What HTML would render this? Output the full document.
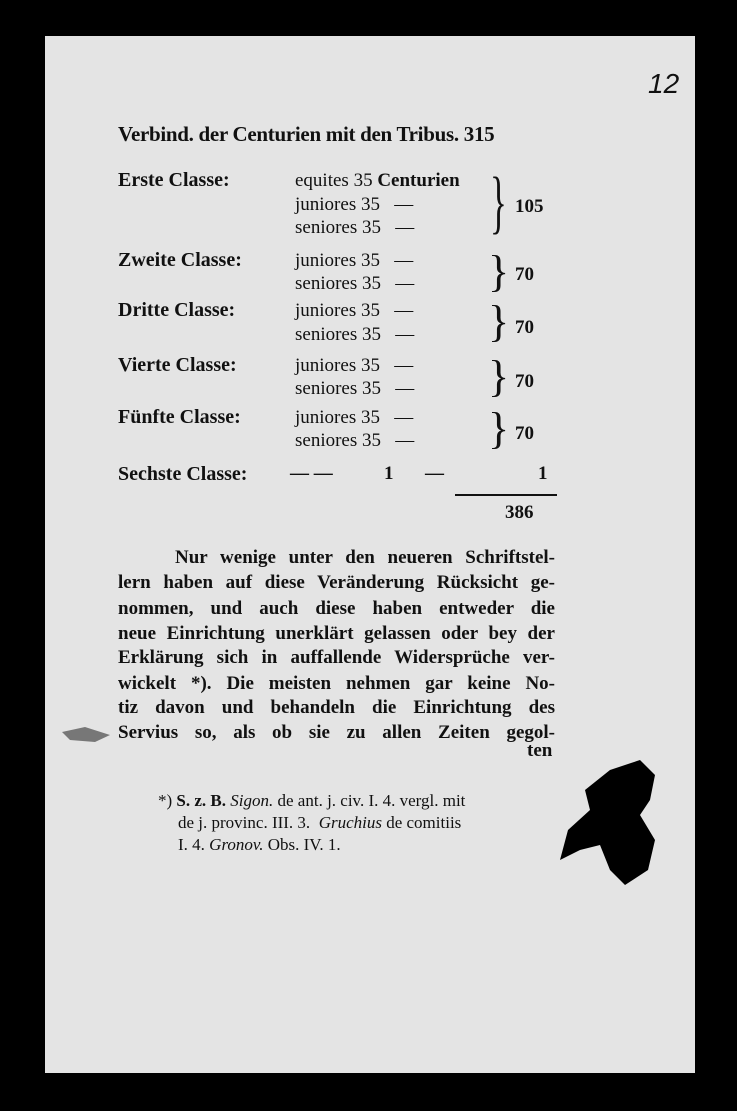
<!DOCTYPE html>
<html><head><meta charset="utf-8"><style>
body{margin:0;width:737px;height:1111px;background:#000;position:relative;overflow:hidden;font-family:"Liberation Serif",serif;color:#111}
.paper{position:absolute;left:45px;top:36px;width:650px;height:1037px;background:#e4e4e4}
.t{position:absolute;white-space:nowrap;font-size:19px;line-height:1}
.b{font-weight:bold}
.j{position:absolute;left:118px;width:437px;font-size:19px;font-weight:bold;text-align:justify;text-align-last:justify;white-space:nowrap;line-height:1}
</style></head><body>
<div class="paper"></div>
<div class="t" style="left:648px;top:70px;font-size:28px;font-family:'Liberation Sans',sans-serif;font-style:italic">12</div>
<div class="t b" style="left:118px;top:124px;font-size:21px;letter-spacing:-0.3px">Verbind. der Centurien mit den Tribus. 315</div>

<div class="t b" style="left:118px;top:170px;font-size:20px">Erste Classe:</div>
<div class="t" style="left:295px;top:171px">equites 35 <b>Centurien</b></div>
<div class="t" style="left:295px;top:195px">juniores 35 &nbsp;&nbsp;—</div>
<div class="t" style="left:295px;top:218px">seniores 35 &nbsp;&nbsp;—</div>
<div class="t" style="left:490px;top:168px;font-size:70px;font-weight:100;transform:scaleX(0.5);transform-origin:left">}</div>
<div class="t b" style="left:515px;top:197px">105</div>

<div class="t b" style="left:118px;top:250px;font-size:20px">Zweite Classe:</div>
<div class="t" style="left:295px;top:251px">juniores 35 &nbsp;&nbsp;—</div>
<div class="t" style="left:295px;top:274px">seniores 35 &nbsp;&nbsp;—</div>
<div class="t" style="left:488px;top:250px;font-size:44px">}</div>
<div class="t b" style="left:515px;top:265px">70</div>

<div class="t b" style="left:118px;top:300px;font-size:20px">Dritte Classe:</div>
<div class="t" style="left:295px;top:301px">juniores 35 &nbsp;&nbsp;—</div>
<div class="t" style="left:295px;top:325px">seniores 35 &nbsp;&nbsp;—</div>
<div class="t" style="left:488px;top:300px;font-size:44px">}</div>
<div class="t b" style="left:515px;top:318px">70</div>

<div class="t b" style="left:118px;top:355px;font-size:20px">Vierte Classe:</div>
<div class="t" style="left:295px;top:356px">juniores 35 &nbsp;&nbsp;—</div>
<div class="t" style="left:295px;top:379px">seniores 35 &nbsp;&nbsp;—</div>
<div class="t" style="left:488px;top:355px;font-size:44px">}</div>
<div class="t b" style="left:515px;top:372px">70</div>

<div class="t b" style="left:118px;top:407px;font-size:20px">Fünfte Classe:</div>
<div class="t" style="left:295px;top:408px">juniores 35 &nbsp;&nbsp;—</div>
<div class="t" style="left:295px;top:431px">seniores 35 &nbsp;&nbsp;—</div>
<div class="t" style="left:488px;top:407px;font-size:44px">}</div>
<div class="t b" style="left:515px;top:424px">70</div>

<div class="t b" style="left:118px;top:464px;font-size:20px">Sechste Classe:</div>
<div class="t b" style="left:290px;top:464px">— —</div>
<div class="t b" style="left:384px;top:464px">1</div>
<div class="t b" style="left:425px;top:464px">—</div>
<div class="t b" style="left:538px;top:464px">1</div>
<div style="position:absolute;left:455px;top:494px;width:102px;height:2px;background:#111"></div>
<div class="t b" style="left:505px;top:503px">386</div>

<div class="j" style="left:175px;width:380px;top:548px">Nur wenige unter den neueren Schriftstel-</div>
<div class="j" style="top:573px">lern haben auf diese Veränderung Rücksicht ge-</div>
<div class="j" style="top:599px">nommen, und auch diese haben entweder die</div>
<div class="j" style="top:624px">neue Einrichtung unerklärt gelassen oder bey der</div>
<div class="j" style="top:648px">Erklärung sich in auffallende Widersprüche ver-</div>
<div class="j" style="top:674px">wickelt *). Die meisten nehmen gar keine No-</div>
<div class="j" style="top:698px">tiz davon und behandeln die Einrichtung des</div>
<div class="j" style="top:723px">Servius so, als ob sie zu allen Zeiten gegol-</div>
<div class="t b" style="left:527px;top:741px">ten</div>

<div class="t" style="left:158px;top:792px;font-size:17px">*) <b>S. z. B.</b> <i>Sigon.</i> de ant. j. civ. I. 4. vergl. mit</div>
<div class="t" style="left:178px;top:814px;font-size:17px">de j. provinc. III. 3. &nbsp;<i>Gruchius</i> de comitiis</div>
<div class="t" style="left:178px;top:836px;font-size:17px">I. 4. <i>Gronov.</i> Obs. IV. 1.</div>

<svg style="position:absolute;left:0;top:0" width="737" height="1111">
<path d="M585 790 L610 770 L640 760 L655 775 L650 800 L640 815 L655 840 L648 870 L625 885 L610 870 L600 845 L580 850 L560 860 L568 830 L590 810 Z" fill="#000"/>
<path d="M62 732 L85 727 L110 735 L95 742 L70 740 Z" fill="#777"/>
</svg>
</body></html>
